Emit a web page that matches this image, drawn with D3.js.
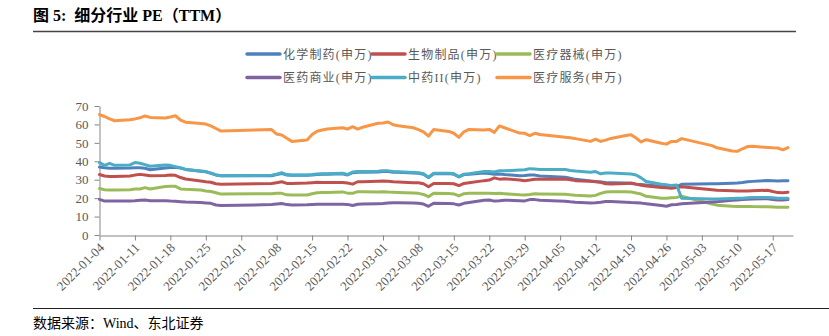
<!DOCTYPE html>
<html><head><meta charset="utf-8">
<script src="https://cdn.jsdelivr.net/npm/d3@7"></script>
<style>body{margin:0;background:#fff;} svg{display:block;}</style>
</head><body><svg id="c" width="829" height="336"></svg>
<script>
const dates = ["2022-01-04","2022-01-05","2022-01-06","2022-01-07","2022-01-10","2022-01-11","2022-01-12","2022-01-13","2022-01-14","2022-01-17","2022-01-18","2022-01-19","2022-01-20","2022-01-21","2022-01-24","2022-01-25","2022-01-26","2022-01-27","2022-01-28","2022-02-07","2022-02-08","2022-02-09","2022-02-10","2022-02-11","2022-02-14","2022-02-15","2022-02-16","2022-02-17","2022-02-18","2022-02-21","2022-02-22","2022-02-23","2022-02-24","2022-02-25","2022-02-28","2022-03-01","2022-03-02","2022-03-03","2022-03-04","2022-03-07","2022-03-08","2022-03-09","2022-03-10","2022-03-11","2022-03-14","2022-03-15","2022-03-16","2022-03-17","2022-03-18","2022-03-21","2022-03-22","2022-03-23","2022-03-24","2022-03-25","2022-03-28","2022-03-29","2022-03-30","2022-03-31","2022-04-01","2022-04-06","2022-04-07","2022-04-08","2022-04-11","2022-04-12","2022-04-13","2022-04-14","2022-04-15","2022-04-18","2022-04-19","2022-04-20","2022-04-21","2022-04-22","2022-04-25","2022-04-26","2022-04-27","2022-04-28","2022-04-29","2022-05-05","2022-05-06","2022-05-09","2022-05-10","2022-05-11","2022-05-12","2022-05-13","2022-05-16","2022-05-17","2022-05-18","2022-05-19","2022-05-20"];

const seriesNames = ["化学制药(申万)","生物制品(申万)","医疗器械(申万)","医药商业(申万)","中药II(申万)","医疗服务(申万)"];

const chemPharma = [36.9,36.5,36.2,36.2,36.3,36.5,36.5,36.2,35.4,36.4,36.6,36.8,36.3,35.6,34.6,34.3,33.5,32.6,32.2,32.2,32.8,33.4,32.5,32.4,32.4,32.5,32.8,32.9,33.0,33.2,32.6,33.8,34.0,34.0,34.2,34.4,34.4,34.0,34.0,33.6,33.5,33.0,31.2,33.2,33.3,33.0,31.5,32.8,33.0,33.6,33.3,33.0,33.1,32.8,32.2,32.3,32.6,32.5,32.0,31.3,30.8,30.2,29.3,29.0,28.8,28.5,28.4,28.2,28.0,27.6,27.4,27.2,26.4,26.2,26.2,26.2,27.5,27.8,27.8,28.1,28.2,28.5,28.9,29.1,29.6,29.5,29.3,29.4,29.5];

const bioProducts = [32.8,32.0,31.8,31.8,32.0,32.5,32.9,32.5,32.1,32.3,32.5,32.4,31.2,30.4,29.3,28.9,28.6,27.8,27.5,27.9,28.4,28.9,28.0,27.9,28.2,28.4,28.6,28.5,28.5,28.5,28.2,27.6,28.9,28.9,29.2,29.3,29.2,28.9,28.8,28.4,28.4,27.8,26.2,28.0,28.0,27.8,26.8,28.0,28.4,29.5,29.8,31.0,30.3,30.5,29.8,29.5,29.8,30.3,30.3,30.4,30.0,29.5,29.1,28.9,28.6,27.8,27.7,28.0,28.2,27.6,27.0,26.6,25.8,25.6,25.3,25.8,26.2,24.6,24.3,24.0,23.9,23.9,23.9,24.0,24.3,23.6,23.0,22.9,23.2];

const medDevices = [25.2,24.6,24.4,24.4,24.6,24.9,25.0,25.7,25.0,26.3,26.4,26.4,25.0,24.8,24.4,23.9,23.6,22.9,22.2,22.4,22.6,22.6,21.8,21.7,21.7,22.4,22.9,23.0,23.1,23.4,22.7,22.6,23.5,23.5,23.4,23.5,23.3,23.2,23.1,22.8,22.6,22.0,20.8,22.6,22.5,22.3,21.2,22.4,22.6,22.7,22.6,22.5,22.6,22.4,21.8,21.7,22.0,22.4,22.3,22.1,21.8,21.6,21.2,21.5,22.6,23.3,23.5,23.5,23.4,22.8,22.2,21.0,20.0,19.9,20.2,20.4,21.0,16.8,16.2,15.6,15.5,15.5,15.5,15.4,15.3,15.2,15.1,15.0,15.1];

const pharmaCommerce = [19.3,18.4,18.4,18.4,18.5,18.6,18.9,19.0,18.6,18.6,18.4,18.3,18.1,17.9,17.6,17.4,17.2,16.3,16.0,16.5,16.8,17.1,16.5,16.3,16.4,16.6,16.7,16.7,16.7,16.7,16.6,16.0,16.7,16.8,17.0,17.1,17.3,17.5,17.5,17.3,17.2,16.8,15.6,17.2,17.1,16.9,16.3,17.2,17.6,18.8,19.0,18.4,18.6,18.9,18.6,18.5,19.2,19.2,18.9,18.3,18.0,17.8,17.4,17.5,17.8,18.2,18.2,17.8,17.6,17.5,17.3,17.0,16.0,15.6,16.4,16.6,17.0,17.9,18.1,18.8,19.0,19.2,19.4,19.5,19.7,19.3,19.0,19.0,19.2];

const tcm = [39.3,37.8,38.9,37.8,38.0,39.3,38.9,38.2,37.3,38.0,37.8,37.1,36.5,35.6,34.7,34.4,33.6,32.6,32.2,32.4,33.0,33.8,32.8,32.6,32.6,32.8,33.1,33.2,33.3,33.5,32.8,34.2,34.4,34.4,34.6,34.9,34.8,34.4,34.3,33.9,33.8,33.2,31.3,33.5,33.5,33.2,31.7,33.0,33.3,34.4,34.4,34.2,34.9,34.8,35.3,35.4,36.0,35.8,35.6,35.5,35.0,34.7,34.1,34.4,33.2,33.6,33.6,33.2,33.1,32.6,31.0,29.0,27.5,27.3,26.8,27.1,19.9,19.5,19.5,19.8,19.9,20.0,20.2,20.3,20.4,20.2,19.9,19.9,19.9];

const medServices = [65.3,64.3,63.0,62.0,62.5,63.0,63.6,64.6,63.8,63.5,64.0,64.7,62.4,61.2,60.5,60.2,59.2,57.8,56.4,57.2,54.8,54.3,52.5,50.8,51.6,54.5,56.3,57.0,57.5,58.2,57.5,58.8,57.5,58.5,60.6,60.8,61.3,59.8,59.3,58.2,57.2,56.0,53.7,57.2,56.2,55.2,53.0,56.0,57.3,57.0,57.3,55.7,59.2,58.2,55.3,55.2,53.9,55.2,54.5,53.0,52.8,52.3,50.8,52.0,50.8,51.5,52.4,54.0,54.4,52.6,50.5,51.7,49.8,49.3,50.8,50.8,52.3,48.5,47.3,45.6,45.4,46.8,48.0,48.2,47.5,47.3,47.2,46.2,47.4];

const yTicks = [0,10,20,30,40,50,60,70];
const xTickLabels = ["2022-01-04","2022-01-11","2022-01-18","2022-01-25","2022-02-01","2022-02-08","2022-02-15","2022-02-22","2022-03-01","2022-03-08","2022-03-15","2022-03-22","2022-03-29","2022-04-05","2022-04-12","2022-04-19","2022-04-26","2022-05-03","2022-05-10","2022-05-17"];
const xDomain = ["2022-01-04","2022-05-21"];

const colors = ["#4F81BD","#C0504D","#9BBB59","#8064A2","#4BACC6","#F79646"];
const values = [chemPharma, bioProducts, medDevices, pharmaCommerce, tcm, medServices];

const parse = d3.utcParse("%Y-%m-%d");
const svg = d3.select("#c");
const latin = "'Liberation Serif','Noto Sans CJK SC',serif";

const x = d3.scaleUtc().domain(xDomain.map(parse)).range([99.5, 793]);
const y = d3.scaleLinear().domain([0, 70]).range([235, 106]);

// Title
svg.append("text").attr("x", 33).attr("y", 21).attr("xml:space", "preserve")
  .style("white-space", "pre")
  .attr("font-family", latin).attr("font-weight", "bold").attr("font-size", 16)
  .attr("fill", "#000").text("图 5:  细分行业 PE（TTM）");
svg.append("line").attr("x1", 33).attr("x2", 796).attr("y1", 31.5).attr("y2", 31.5)
  .attr("stroke", "#444").attr("stroke-width", 1.5);

// Legend
const legPos = [[247,54],[372,54],[497,54],[247,77.5],[372,77.5],[497,77.5]];
seriesNames.forEach((n, i) => {
  const [lx, ly] = legPos[i];
  svg.append("line").attr("x1", lx).attr("x2", lx + 33).attr("y1", ly).attr("y2", ly)
    .attr("stroke", colors[i]).attr("stroke-width", 3.5).attr("stroke-linecap", "round");
  svg.append("text").attr("x", lx + 36).attr("y", ly + 4.5)
    .attr("font-family", latin).attr("font-size", 12).attr("letter-spacing", 1.2)
    .attr("fill", "#595959").text(n);
});

// Axes
const yAxis = svg.append("g").attr("transform", "translate(99.5,0)")
  .call(d3.axisLeft(y).tickValues(yTicks).tickSize(5).tickSizeOuter(0).tickPadding(6));
yAxis.select(".domain").attr("stroke", "#868686");
yAxis.selectAll(".tick line").attr("stroke", "#868686");
yAxis.selectAll("text").attr("font-family", latin).attr("font-size", 13).attr("fill", "#595959");

const xAxis = svg.append("g").attr("transform", "translate(0,235.5)")
  .call(d3.axisBottom(x).tickValues(xTickLabels.map(parse)).tickSize(5).tickSizeOuter(0)
    .tickFormat(d3.utcFormat("%Y-%m-%d")));
xAxis.select(".domain").attr("stroke", "#868686");
xAxis.selectAll(".tick line").attr("stroke", "#868686");
xAxis.selectAll("text")
  .attr("font-family", latin).attr("font-size", 13).attr("fill", "#595959")
  .attr("text-anchor", "end").attr("y", 0).attr("dy", 0)
  .attr("transform", "translate(5,13) rotate(-45)");

// Lines
const line = d3.line().x((d, i) => x(parse(dates[i]))).y(d => y(d));
values.forEach((v, i) => {
  svg.append("path").datum(v).attr("d", line)
    .attr("fill", "none").attr("stroke", colors[i]).attr("stroke-width", 3)
    .attr("stroke-linejoin", "round").attr("stroke-linecap", "round");
});

// Source
svg.append("line").attr("x1", 33).attr("x2", 829).attr("y1", 308.5).attr("y2", 308.5)
  .attr("stroke", "#222").attr("stroke-width", 1);
svg.append("text").attr("x", 33).attr("y", 328)
  .attr("font-family", latin).attr("font-size", 14).attr("fill", "#000")
  .text("数据来源：Wind、东北证券");
</script></body></html>
